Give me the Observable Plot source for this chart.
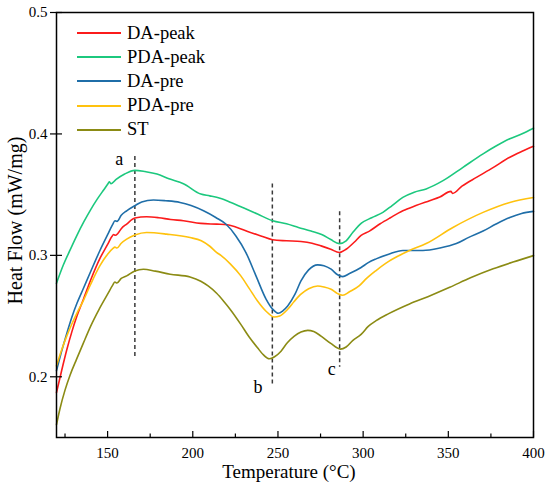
<!DOCTYPE html>
<html>
<head>
<meta charset="utf-8">
<script src="https://cdn.jsdelivr.net/npm/d3@7"></script>
<script src="https://cdn.jsdelivr.net/npm/@observablehq/plot@0.6"></script>
<style>
  html, body { margin: 0; padding: 0; background: #fff; }
  #wrap { position: relative; width: 550px; height: 486px; font-family: "Liberation Serif", "Times New Roman", serif; }
  #legend { position: absolute; left: 77px; top: 21px; }
  .row { display: flex; align-items: center; height: 24.2px; font-size: 18.5px; color: #000; }
  .sw { width: 44px; height: 2px; margin-right: 6px; }
</style>
</head>
<body>
<div id="wrap"><div id="legend"></div></div>
<script>
// ---- data (temperature °C, heat flow mW/mg) ----
const seriesNames = ["DA-peak", "PDA-peak", "DA-pre", "PDA-pre", "ST"];
const seriesColors = ["#fb1b1b", "#1cc87e", "#1f6ea8", "#ffc20e", "#8b8b14"];

const daPeak = [[120,0.187],[123,0.205],[126,0.222],[129,0.237],[132,0.250],[135.7,0.2635],[140,0.2795],[145.5,0.2975],[150,0.309],[152.5,0.3155],[153.5,0.3172],[154.5,0.3165],[156,0.318],[158,0.322],[161.2,0.3258],[166,0.3307],[172.9,0.3318],[180,0.331],[187,0.3295],[194.5,0.3285],[204.7,0.3263],[214,0.3257],[220.4,0.3252],[226,0.323],[232.2,0.3197],[240,0.316],[246.9,0.3128],[255,0.312],[263.5,0.3114],[270,0.310],[275.3,0.3078],[281,0.305],[286,0.3023],[290,0.305],[294.9,0.311],[298.8,0.3165],[303.7,0.320],[310,0.326],[316,0.331],[323.3,0.3367],[331,0.341],[339,0.345],[345,0.348],[351.5,0.3527],[352.5,0.351],[358,0.357],[366.5,0.3642],[376,0.372],[386.1,0.3808],[393,0.3855],[400,0.3898]];

const pdaPeak = [[120,0.277],[124,0.292],[128,0.3045],[132,0.3165],[136,0.3275],[140,0.3375],[144,0.3465],[148,0.3545],[150,0.3585],[151,0.3605],[152,0.359],[155,0.3625],[160,0.367],[166,0.370],[172,0.369],[179,0.367],[186,0.363],[194.5,0.359],[204.7,0.3505],[210,0.349],[216,0.347],[222.4,0.3436],[230,0.339],[238,0.334],[246.9,0.3285],[255,0.326],[262,0.323],[269.4,0.320],[276,0.317],[281,0.313],[286,0.3097],[290,0.312],[294,0.319],[299,0.3265],[305,0.331],[311.6,0.3354],[317,0.341],[323.3,0.3477],[330,0.352],[337,0.3547],[346.9,0.3615],[358.6,0.3725],[370.4,0.3836],[378,0.390],[386.1,0.396],[393,0.400],[400,0.4047]];

const daPre = [[120,0.205],[123,0.221],[126,0.2355],[129,0.249],[132,0.2605],[135.7,0.2725],[140,0.2865],[145.5,0.304],[150,0.317],[153,0.3255],[154.3,0.3285],[155.5,0.328],[158,0.333],[161.2,0.3367],[166,0.3409],[170,0.344],[176.9,0.3456],[184,0.345],[192.5,0.3436],[199,0.341],[206.3,0.3367],[213.5,0.3312],[219.4,0.3258],[225.3,0.316],[231.2,0.3023],[237.1,0.2831],[243,0.264],[247,0.2555],[250.2,0.2523],[253,0.2545],[255.7,0.2583],[260,0.268],[263.5,0.2789],[268,0.288],[273.3,0.2922],[277,0.2915],[281.2,0.2886],[285,0.284],[288,0.2825],[292,0.285],[298.8,0.290],[303,0.294],[307.6,0.2971],[315,0.301],[323.3,0.304],[335.1,0.304],[345,0.306],[354.7,0.3097],[362,0.3148],[370.4,0.320],[378,0.3258],[386.1,0.3312],[393,0.3345],[400,0.3362]];

const pdaPre = [[120,0.209],[123,0.222],[126,0.2335],[129,0.2435],[132,0.2525],[135.7,0.2625],[140,0.276],[145.5,0.2915],[150,0.301],[153,0.3055],[154.3,0.3068],[155.5,0.306],[158,0.310],[161.2,0.3134],[166,0.3167],[172.9,0.3188],[184.7,0.3175],[198.4,0.3147],[205,0.312],[210,0.3075],[214.1,0.3023],[216.5,0.300],[222,0.293],[228.2,0.2831],[233,0.273],[238,0.2624],[243,0.254],[247.8,0.2492],[251,0.250],[255.7,0.2556],[259.5,0.262],[263.5,0.268],[268,0.2725],[273.3,0.2748],[277,0.274],[281.2,0.2721],[285,0.2685],[288,0.2671],[292,0.270],[297.8,0.2751],[302,0.281],[307.6,0.2875],[315,0.295],[320,0.299],[327.2,0.304],[337,0.3097],[352.7,0.323],[370.4,0.3354],[386.1,0.3436],[400,0.3477]];

const st = [[120,0.1606],[122,0.1735],[125,0.189],[128,0.2015],[131.8,0.2145],[135.7,0.2275],[140,0.2415],[145,0.2555],[150,0.268],[153,0.2755],[154.3,0.278],[155.5,0.2772],[158,0.281],[161.2,0.2831],[166,0.2872],[171,0.2886],[178,0.287],[186.7,0.2845],[198.4,0.2822],[204.7,0.2787],[209,0.2748],[214,0.2688],[218,0.2625],[222,0.2555],[228.2,0.2432],[233,0.233],[238,0.2239],[241.5,0.218],[244.9,0.2148],[248,0.2165],[251.8,0.2211],[255.5,0.228],[259.6,0.2335],[263.5,0.2368],[267.5,0.2382],[271,0.2372],[275.3,0.2335],[281,0.2275],[286.6,0.2228],[290,0.2245],[294,0.230],[298.8,0.2349],[303,0.2415],[307.6,0.2462],[315,0.252],[327.2,0.260],[338,0.266],[350.8,0.2737],[363,0.2815],[376.3,0.2889],[388,0.2945],[400,0.2998]];

// dashed marker lines
const markerT = [166, 246.7, 286.2];
const markerTop = [0.3815, 0.3588, 0.3359];
const markerBottom = [0.215, 0.1936, 0.2078];
// marker letters
const letterText = ["a", "b", "c"];
const letterT = [156.9, 238.3, 281.6];
const letterHF = [0.379, 0.1915, 0.2064];

// axes
const xMajorTicks = [150, 200, 250, 300, 350, 400];
const xMinorTicks = [125, 175, 225, 275, 325, 375];
const yTicks = [0.2, 0.3, 0.4, 0.5];
const xTitle = "Temperature (°C)";
const yTitle = "Heat Flow (mW/mg)";

// ---- build ----
const serif = '"Liberation Serif", "Times New Roman", serif';
const allSeries = [daPeak, pdaPeak, daPre, pdaPre, st];
const rows = [];
allSeries.forEach((s, i) => s.forEach(([t, v]) => rows.push({series: seriesNames[i], t, v})));
const markers = markerT.map((t, i) => ({t, y1: markerTop[i], y2: markerBottom[i]}));
const letters = letterText.map((l, i) => ({l, t: letterT[i], v: letterHF[i]}));

const chart = Plot.plot({
  width: 550,
  height: 486,
  marginLeft: 56,
  marginRight: 17,
  marginTop: 12,
  marginBottom: 49,
  style: {fontFamily: serif, fontSize: "15px", color: "#000", background: "#fff"},
  x: {domain: [120, 400]},
  y: {domain: [0.15, 0.5]},
  color: {domain: seriesNames, range: seriesColors},
  marks: [
    Plot.ruleX(markers, {x: "t", y1: "y1", y2: "y2", stroke: "#3a3a3a", strokeWidth: 1.5, strokeDasharray: "4,3"}),
    Plot.line(rows, {x: "t", y: "v", z: "series", stroke: "series", strokeWidth: 1.6, curve: "monotone-x"}),
    Plot.text(letters, {x: "t", y: "v", text: "l", fontSize: 18, fontFamily: serif, textAnchor: "middle", lineAnchor: "middle", fill: "#000"}),
    Plot.axisX({ticks: xMajorTicks, tickSize: 6, insetBottom: 6, tickPadding: 10, tickFormat: d => String(d), label: null, stroke: "#000", fill: "#000", strokeWidth: 1.2, fontFamily: serif, fontSize: 15, fontVariant: "normal"}),
    Plot.axisX({ticks: xMinorTicks, tickSize: 3.5, insetBottom: 3.5, tickFormat: () => "", label: null, stroke: "#000", strokeWidth: 1.2}),
    Plot.axisY({ticks: yTicks, tickSize: 12, insetLeft: 6, tickPadding: 3, tickFormat: d3.format(".1f"), label: null, stroke: "#000", fill: "#000", strokeWidth: 1.2, fontFamily: serif, fontSize: 15, fontVariant: "normal"}),
    Plot.text([xTitle], {frameAnchor: "bottom", dy: 34.5, dx: -6, fontSize: 19, fontFamily: serif, textAnchor: "middle", lineAnchor: "middle", fill: "#000"}),
    Plot.text([yTitle], {frameAnchor: "left", dx: -41.4, dy: -4.5, rotate: -90, fontSize: 20, fontFamily: serif, textAnchor: "middle", lineAnchor: "middle", fill: "#000"}),
    Plot.frame({stroke: "#000", strokeWidth: 1.5})
  ]
});
const wrap = document.getElementById("wrap");
wrap.insertBefore(chart, wrap.firstChild);

const legend = document.getElementById("legend");
seriesNames.forEach((name, i) => {
  const row = document.createElement("div");
  row.className = "row";
  const sw = document.createElement("div");
  sw.className = "sw";
  sw.style.background = seriesColors[i];
  const label = document.createElement("span");
  label.textContent = name;
  row.appendChild(sw);
  row.appendChild(label);
  legend.appendChild(row);
});
</script>
</body>
</html>
